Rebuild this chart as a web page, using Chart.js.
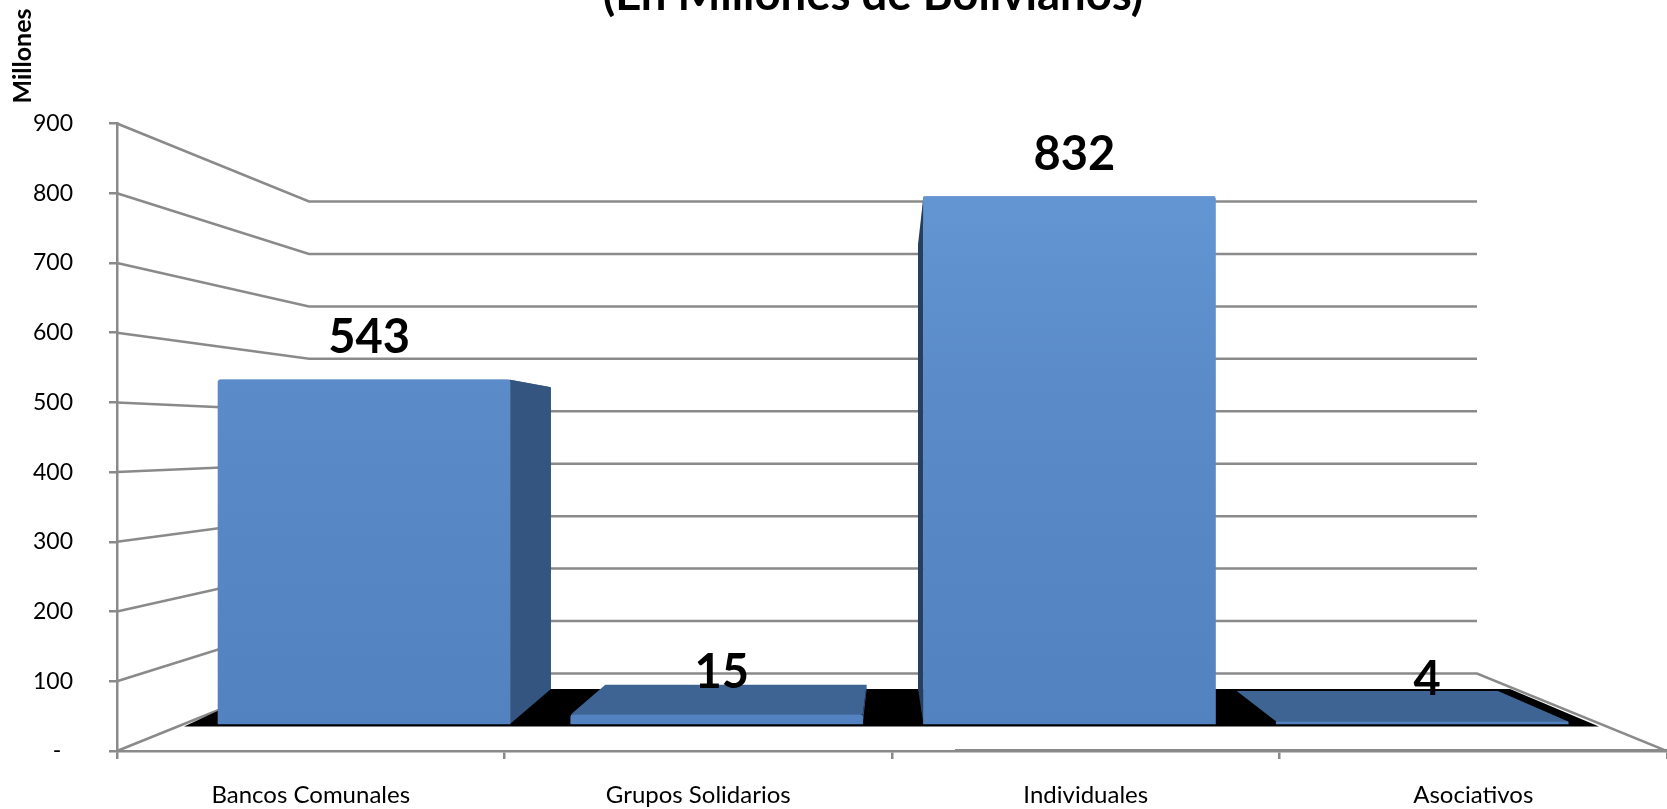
<!DOCTYPE html>
<html>
<head>
<meta charset="utf-8">
<title>Cartera</title>
<script src="https://cdn.jsdelivr.net/npm/chart.js@4"></script>
<style>
    body { margin: 0; background: #fff; }
    canvas { display: block; }
</style>
</head>
<body>
<canvas id="chart" width="1667" height="809"></canvas>
<script>
const categories = ['Bancos Comunales', 'Grupos Solidarios', 'Individuales', 'Asociativos'];
const creditValues = [543, 15, 832, 4];
const titleText = '(En Millones de Bolivianos)';
const unitText = 'Millones';
const axisMax = 900;
const axisStep = 100;

const gridColor = '#8a8a8a';
const wallLeft = 309, wallRight = 1477;   // back wall of the 3d box
const floorBack = 689, floorFront = 726.5;

// the bars stand further back than the axis, vanishing point
function backOf(x, y) {
    return [900 + (x - 900) * 0.895, 387 + (y - 379.5) * 0.889];
}

function poly(ctx, pts, color) {
    ctx.fillStyle = color;
    ctx.beginPath();
    pts.forEach(function(p, i) { i ? ctx.lineTo(p[0], p[1]) : ctx.moveTo(p[0], p[1]); });
    ctx.closePath();
    ctx.fill();
}

const box3d = {
    id: 'box3d',
    beforeDatasetsDraw(chart) {
        const ctx = chart.ctx, area = chart.chartArea;
        const yFront = chart.scales.y, yBack = chart.scales.yBack;
        ctx.save();
        ctx.strokeStyle = gridColor;
        ctx.lineWidth = 2.5;
        for (let v = 0; v <= axisMax; v += axisStep) {
            ctx.beginPath();
            ctx.moveTo(area.left, yFront.getPixelForValue(v));
            ctx.lineTo(wallLeft, yBack.getPixelForValue(v));
            ctx.lineTo(wallRight, yBack.getPixelForValue(v));
            if (v === 0) ctx.lineTo(area.right, yFront.getPixelForValue(0));
            ctx.stroke();
        }
        // small overdraw on the x axis, it is in the original too
        ctx.lineWidth = 2;
        ctx.beginPath();
        ctx.moveTo(955, area.bottom - 1);
        ctx.lineTo(area.right, area.bottom - 1);
        ctx.stroke();

        // black floor
        poly(ctx, [[184, floorFront], [265, floorBack], [1510, floorBack], [1599, floorFront]], '#000');

        // top and side faces, the front face is the chart.js bar
        chart.getDatasetMeta(0).data.forEach(function(bar) {
            const l = bar.x - bar.width / 2, r = bar.x + bar.width / 2;
            const top = bar.y, base = bar.base;
            const edge = r < 900 ? r : l;
            const back = backOf(edge, top);
            const sideX = edge === r ? back[0] : back[0] - 3;
            poly(ctx, [[l, top], [r, top], backOf(r, top), backOf(l, top)], '#3d6493');
            // flat bars right of the vanishing point show no side
            if (edge === r || base - top > 20) {
                poly(ctx, [[edge, top], [sideX, back[1] + (edge === r ? 0 : 20)], [sideX, floorBack], [edge, base]],
                    edge === r ? '#34557f' : '#243f60');
            }
        });
        ctx.restore();
    },
    afterDatasetsDraw(chart) {
        const ctx = chart.ctx;
        ctx.save();
        ctx.fillStyle = '#000';
        ctx.textAlign = 'center';
        ctx.textBaseline = 'middle';
        ctx.font = 'bold 47px Lato';
        chart.getDatasetMeta(0).data.forEach(function(bar, i) {
            ctx.fillText(creditValues[i], bar.x + 5, bar.y - 42);
        });
        ctx.textBaseline = 'alphabetic';
        ctx.font = 'bold 45.5px Lato';
        ctx.fillText(titleText, 873, 10);
        ctx.translate(31, 56);
        ctx.rotate(-Math.PI / 2);
        ctx.font = 'bold 25px Lato';
        ctx.fillText(unitText, 0, 0);
        ctx.restore();
    }
};

new Chart(document.getElementById('chart').getContext('2d'), {
    type: 'bar',
    data: {
        labels: categories,
        datasets: [{
            data: creditValues.map(function(v, i) { return { x: i, y: v }; }),
            xAxisID: 'xBar',
            yAxisID: 'yBar',
            barThickness: 292,
            borderRadius: { topLeft: 3, topRight: 3 },
            backgroundColor: function(c) {
                const area = c.chart.chartArea;
                if (!area) return '#4f81bd';
                const g = c.chart.ctx.createLinearGradient(0, 190, 0, 723);
                g.addColorStop(0, '#6496d4');
                g.addColorStop(0.4, '#5a8ac8');
                g.addColorStop(1, '#5283c0');
                return g;
            }
        }]
    },
    options: {
        responsive: false,
        animation: false,
        layout: { padding: { top: 123.5, left: 0, right: 0, bottom: 0 } },
        plugins: { legend: { display: false }, tooltip: { enabled: false } },
        scales: {
            x: {
                offset: true,
                grid: { offset: true, drawOnChartArea: false, color: gridColor, tickLength: 8, lineWidth: 2.5 },
                border: { color: gridColor, width: 2.5 },
                ticks: { color: '#000', font: { family: 'Lato', size: 24 }, padding: 22, maxRotation: 0 },
                afterFit(scale) { scale.height = 58; }
            },
            y: {
                min: 0,
                max: axisMax,
                grid: { drawOnChartArea: false, color: gridColor, tickLength: 8, lineWidth: 2.5 },
                border: { color: gridColor, width: 2.5 },
                ticks: {
                    stepSize: axisStep,
                    color: '#000',
                    font: { family: 'Lato', size: 23 },
                    padding: 36,
                    callback: function(v) { return v === 0 ? '-  ' : v; }
                },
                afterFit(scale) { scale.width = 117; }
            },
            // plane of the bars
            xBar: { type: 'linear', axis: 'x', display: false, offset: false, min: -0.7003, max: 3.694 },
            yBar: { type: 'linear', axis: 'y', display: false, min: -42.6, max: 947.2 },
            // plane of the back wall
            yBack: { type: 'linear', axis: 'y', display: false, min: -147.8, max: 1048.8 }
        }
    },
    plugins: [box3d]
});
</script>
</body>
</html>
